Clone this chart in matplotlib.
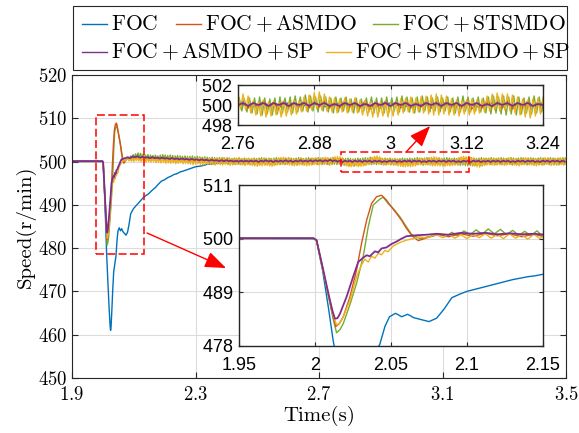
import numpy as np
import matplotlib.pyplot as plt
from matplotlib.lines import Line2D
from matplotlib.patches import Rectangle

plt.rcParams["mathtext.fontset"] = "cm"
plt.rcParams["axes.formatter.use_mathtext"] = True

# ── Speed response data (r/min) ───────────────────────────────────────────────

# FOC: whole record on its own time points
t_foc = [1.90, 1.95, 1.999, 2.001, 2.005, 2.009, 2.012, 2.016, 2.020, 2.0235,
         2.025, 2.0265, 2.029, 2.032, 2.035, 2.040, 2.0426, 2.046, 2.049, 2.053,
         2.057, 2.061, 2.065, 2.070, 2.075, 2.080, 2.085, 2.090, 2.095, 2.100,
         2.105, 2.110, 2.115, 2.120, 2.125, 2.130, 2.135, 2.140, 2.145, 2.150,
         2.16, 2.17, 2.18, 2.19, 2.20, 2.21, 2.22, 2.23, 2.24, 2.25,
         2.26, 2.28, 2.30, 2.32, 2.34, 2.36, 2.38, 2.40, 2.42, 2.44, 2.46]
v_foc = [500.0, 500.0, 500.0, 499.6, 493.5, 485.5, 479.0, 472.5, 466.5, 462.0,
         461.0, 461.8, 465.5, 470.5, 474.5, 477.0, 478.3, 482.0, 484.0, 484.7,
         484.0, 484.5, 483.8, 483.4, 483.0, 483.7, 485.6, 487.9, 488.6, 489.2,
         489.6, 490.0, 490.4, 490.8, 491.2, 491.6, 491.9, 492.2, 492.4, 492.7,
         493.4, 494.0, 494.8, 495.5, 495.8, 496.3, 496.6, 497.0, 497.2, 497.6,
         497.8, 498.3, 498.8, 499.0, 499.4, 499.5, 499.7, 499.8, 499.9, 500.0, 500.0]
# FOC ripple from 2.48 s, 0.02 s apart
ss_foc = [500.1, 499.9, 500.2, 499.8, 500.1, 500.0, 500.2, 499.9, 500.1, 499.8,
          500.2, 500.0, 500.1, 499.9, 500.2, 499.8, 500.1, 500.0, 500.2, 499.9,
          500.1, 499.8, 500.2, 500.0, 500.1, 499.9, 500.2, 499.8, 500.1, 500.0,
          500.2, 499.9, 500.1, 499.8, 500.2, 500.0, 500.1, 499.9, 500.2, 499.8,
          500.1, 500.0, 500.2, 499.9, 500.1, 499.8, 500.2, 500.0, 500.1, 499.9,
          500.2, 500.0]

# load step transients
t_asmdo = [1.90, 1.95, 1.999, 2.001, 2.005, 2.009, 2.0115, 2.0137, 2.016, 2.0186,
           2.023, 2.0273, 2.0306, 2.034, 2.0372, 2.0405, 2.0438, 2.047, 2.0503, 2.0536,
           2.0569, 2.0602, 2.0635, 2.0679, 2.071, 2.0755]
v_asmdo = [500.1, 500.1, 500.1, 499.7, 494.0, 488.2, 484.5, 482.0, 482.6, 484.0,
           488.1, 493.5, 499.0, 503.8, 507.2, 508.6, 508.9, 507.9, 506.5, 505.2,
           503.8, 502.1, 500.7, 499.6, 499.9, 500.4]

t_stsmdo = [1.90, 1.95, 1.999, 2.001, 2.005, 2.009, 2.012, 2.0142, 2.0165, 2.0186,
            2.023, 2.0273, 2.0317, 2.035, 2.0383, 2.0427, 2.0449, 2.0481, 2.0514, 2.0558,
            2.0602, 2.0635, 2.069, 2.0735, 2.0777]
v_stsmdo = [500.0, 500.1, 500.0, 499.7, 494.0, 488.0, 483.5, 480.7, 481.4, 482.6,
            486.5, 490.8, 496.3, 502.4, 506.9, 508.1, 508.5, 507.2, 506.2, 504.5,
            502.4, 500.9, 500.0, 500.3, 500.5]

t_asmdo_sp = [1.90, 1.95, 1.999, 2.001, 2.005, 2.009, 2.0115, 2.0131, 2.0148, 2.0164,
              2.0208, 2.0251, 2.0284, 2.0317, 2.034, 2.0361, 2.0394, 2.0416, 2.0438, 2.047,
              2.0503, 2.0536, 2.0569, 2.0602, 2.0668, 2.073]
v_asmdo_sp = [500.1, 500.1, 500.1, 499.7, 494.2, 488.5, 485.2, 483.6, 483.7, 484.6,
              488.1, 492.2, 495.2, 496.1, 496.6, 496.4, 497.4, 497.2, 498.0, 498.2,
              498.9, 499.4, 500.0, 500.5, 500.7, 500.8]

t_stsmdo_sp = [1.90, 1.95, 1.999, 2.001, 2.005, 2.009, 2.012, 2.0142, 2.0165, 2.0186,
               2.023, 2.0273, 2.0306, 2.0328, 2.035, 2.0372, 2.0394, 2.0416, 2.0438, 2.046,
               2.048, 2.0514, 2.0558, 2.0602, 2.0646, 2.069, 2.0735, 2.077]
v_stsmdo_sp = [500.1, 500.0, 500.1, 499.7, 494.0, 488.2, 484.3, 482.3, 482.8, 484.0,
               487.4, 492.2, 494.6, 495.8, 495.2, 496.4, 496.0, 497.0, 496.7, 497.6,
               497.3, 498.5, 499.2, 499.7, 500.0, 500.4, 500.1, 500.6]

# steady-state ripple, ASMDO and ASMDO+SP every 8 ms from 2.08 s
ss_asmdo = [
    500.9, 500.4, 501.0, 500.5, 501.1, 500.6, 501.0, 500.4, 500.9, 500.3, 500.9, 500.4, 500.8,
    500.3, 500.8, 500.2, 500.7, 500.2, 500.8, 500.1, 500.7, 500.2, 500.6, 500.0, 500.7,
    499.9, 500.6, 499.9, 500.5, 499.8, 500.6, 499.9, 500.5, 499.7, 500.4, 499.8, 500.5, 499.7,
    500.4, 499.8, 500.5, 499.7, 500.4, 499.8, 500.3, 499.7, 500.4, 499.8, 500.3, 499.7,
    500.4, 499.7, 500.3, 499.8, 500.4, 499.7, 500.3, 499.6, 500.4, 499.7, 500.3, 499.8, 500.4,
    499.7, 500.3, 499.7, 500.4, 499.8, 500.3, 499.7, 500.4, 499.6, 500.3, 499.7, 500.4,
    499.7, 500.3, 499.8, 500.4, 499.7, 500.3, 499.6, 500.4, 499.7, 500.3, 499.8, 500.4, 499.7,
    500.3, 499.8, 500.4, 499.7, 500.3, 499.6, 500.4, 499.7, 500.3, 499.8, 500.4, 499.7,
    500.3, 499.8, 500.4, 499.7, 500.3, 499.7, 500.4, 499.8, 500.3, 499.7, 500.4, 499.6, 500.3,
    499.7, 500.4, 499.8, 500.3, 499.7, 500.4, 499.7, 500.3, 499.8, 500.4, 499.7, 500.3,
    499.7, 500.4, 499.8, 500.3, 499.7, 500.4, 499.6, 500.3, 499.7, 500.4, 499.8, 500.3, 499.7,
    500.4, 499.6, 500.3, 499.7, 500.4, 499.8, 500.3, 499.7, 500.4, 499.7, 500.3, 499.8,
    500.4, 499.7, 500.3, 499.8, 500.4, 499.7, 500.3, 499.6, 500.4, 499.7, 500.3, 499.8, 500.4,
    499.7, 500.3, 499.7, 500.4, 499.8, 500.3, 499.7, 500.4, 499.6, 500.3, 499.7, 500.4,
    499.7, 500.3, 499.8,
]
ss_asmdo_sp = [
    501.0, 500.8, 501.2, 501.0, 501.2, 500.9, 501.1, 500.9, 501.0, 500.8, 501.0, 500.8, 500.9,
    500.7, 500.9, 500.7, 500.8, 500.6, 500.8, 500.6, 500.7, 500.5, 500.7, 500.5, 500.6,
    500.4, 500.6, 500.4, 500.5, 500.3, 500.5, 500.3, 500.4, 500.2, 500.4, 500.2, 500.3, 500.1,
    500.3, 500.1, 500.3, 500.1, 500.2, 500.0, 500.2, 500.0, 500.2, 500.0, 500.2, 500.0,
    500.2, 500.0, 500.2, 499.9, 500.2, 500.0, 500.3, 500.0, 500.2, 499.9, 500.2, 500.0, 500.2,
    500.0, 500.3, 500.0, 500.2, 499.9, 500.2, 500.0, 500.3, 500.0, 500.2, 500.0, 500.3,
    500.0, 500.3, 500.1, 500.3, 500.0, 500.3, 500.1, 500.4, 500.1, 500.3, 500.0, 500.2, 499.9,
    500.2, 500.0, 500.2, 499.9, 500.2, 500.0, 500.2, 499.9, 500.2, 500.0, 500.2, 499.9,
    500.2, 500.0, 500.2, 499.9, 500.1, 499.9, 500.2, 500.0, 500.2, 499.9, 500.1, 499.9, 500.2,
    500.0, 500.2, 499.9, 500.2, 500.0, 500.2, 499.9, 500.1, 499.9, 500.2, 500.0, 500.2,
    499.9, 500.2, 500.0, 500.2, 499.9, 500.2, 500.0, 500.2, 499.9, 500.1, 499.9, 500.2, 500.0,
    500.2, 499.9, 500.2, 500.0, 500.2, 499.9, 500.1, 500.0, 500.2, 499.9, 500.2, 500.0,
    500.2, 499.9, 500.2, 500.0, 500.2, 499.9, 500.1, 499.9, 500.2, 500.0, 500.2, 499.9, 500.2,
    500.0, 500.2, 499.9, 500.1, 499.9, 500.2, 500.0, 500.2, 499.9, 500.2, 500.0, 500.2,
    499.9, 500.2, 500.0,
]

# steady-state ripple, STSMDO (from 2.082 s) and STSMDO+SP (from 2.08 s), every 4 ms
ss_stsmdo = [
    501.0, 500.4, 501.3, 500.6, 501.6, 500.8, 501.8, 500.9, 502.0, 501.0, 501.9, 500.8, 501.7,
    500.7, 501.5, 500.6, 501.6, 500.5, 501.5, 500.6, 501.4, 500.5, 501.5, 500.4, 501.3,
    500.5, 501.5, 500.4, 501.6, 500.5, 501.5, 500.3, 501.4, 500.4, 501.5, 500.3, 501.4, 500.2,
    501.3, 500.3, 501.4, 500.2, 501.3, 500.1, 501.2, 500.2, 501.3, 500.1, 501.2, 500.0,
    501.2, 500.0, 501.3, 499.9, 501.1, 500.0, 501.2, 499.8, 501.1, 499.9, 501.0, 499.8, 501.1,
    499.7, 501.0, 499.8, 500.9, 499.7, 501.0, 499.6, 500.9, 499.7, 500.8, 499.6, 500.9,
    499.5, 500.9, 499.6, 500.8, 499.5, 500.9, 499.4, 500.8, 499.5, 500.7, 499.4, 500.8, 499.3,
    500.7, 499.4, 500.8, 499.3, 500.7, 499.4, 500.8, 499.3, 500.7, 499.4, 500.6, 499.3,
    500.7, 499.3, 500.8, 499.4, 500.7, 499.3, 500.8, 499.4, 500.9, 499.5, 500.8, 499.3, 500.7,
    499.4, 500.8, 499.3, 500.7, 499.2, 500.8, 499.3, 500.9, 499.4, 500.8, 499.3, 500.7,
    499.4, 500.8, 499.3, 500.7, 499.4, 500.9, 499.5, 500.8, 499.3, 500.7, 499.4, 500.8, 499.3,
    500.9, 499.4, 500.8, 499.3, 500.7, 499.4, 500.8, 499.5, 500.9, 499.4, 500.8, 499.3,
    500.7, 499.4, 500.8, 499.3, 500.9, 499.4, 500.8, 499.3, 500.7, 499.4, 500.8, 499.3, 500.7,
    499.2, 500.8, 499.3, 500.9, 499.4, 500.8, 499.3, 500.7, 499.4, 500.6, 499.3, 500.7,
    499.2, 500.7, 499.1, 500.8, 499.0, 500.7, 499.1, 500.6, 499.0, 500.7, 499.1, 500.8, 499.2,
    500.7, 499.3, 500.8, 499.2, 500.9, 499.3, 500.8, 499.4, 501.0, 499.3, 500.9, 499.4,
    500.8, 499.3, 500.9, 499.4, 500.8, 499.3, 500.7, 499.2, 500.8, 499.3, 500.7, 499.4, 500.8,
    499.3, 500.6, 499.2, 500.7, 499.3, 500.6, 499.4, 500.7, 499.3, 500.8, 499.2, 500.7,
    499.3, 500.7, 499.2, 500.8, 499.3, 500.7, 499.4, 500.8, 499.3, 500.9, 499.4, 500.8, 499.3,
    500.7, 499.2, 500.8, 499.3, 500.9, 499.4, 500.8, 499.3, 500.7, 499.4, 500.8, 499.3,
    500.7, 499.4, 500.8, 499.3, 500.7, 499.2, 500.8, 499.3, 500.9, 499.4, 500.8, 499.3, 500.7,
    499.4, 500.8, 499.3, 500.7, 499.2, 500.8, 499.1, 500.9, 499.2, 500.8, 499.1, 500.9,
    499.0, 500.8, 499.1, 500.9, 499.0, 500.8, 499.1, 500.7, 499.2, 500.8, 499.1, 500.9, 499.2,
    500.8, 499.3, 500.7, 499.4, 500.8, 499.3, 500.9, 499.4, 500.8, 499.3, 500.7, 499.4,
    500.8, 499.3, 500.9, 499.4, 500.8, 499.3, 500.7, 499.4, 500.8, 499.3, 500.9, 499.2, 500.8,
    499.3, 500.7, 499.4, 500.8, 499.3, 500.9, 499.4, 500.8, 499.3, 500.7, 499.2, 500.8,
    499.3, 500.9, 499.4, 500.8, 499.3, 500.7, 499.4, 500.8, 499.3, 500.9, 499.2, 500.8, 499.3,
    500.7, 499.4, 500.8, 499.3, 500.9, 499.4, 500.8, 499.3, 500.7, 499.2, 500.8, 499.3,
    500.8, 499.4, 500.9, 499.3, 500.8, 499.4,
]
ss_stsmdo_sp = [
    500.8, 500.2, 500.9, 500.1, 500.8, 500.0, 500.9, 500.2, 501.0, 500.1, 500.9, 500.0, 501.0,
    500.1, 500.8, 499.9, 500.9, 500.0, 501.0, 499.9, 500.8, 500.0, 500.9, 499.8, 500.8,
    499.8, 500.9, 499.7, 501.0, 499.8, 500.8, 499.6, 500.9, 499.7, 501.0, 499.6, 500.8, 499.7,
    500.9, 499.5, 500.8, 499.6, 500.9, 499.7, 500.7, 499.5, 500.8, 499.6, 500.9, 499.5,
    500.8, 499.4, 500.9, 499.3, 500.7, 499.4, 500.8, 499.5, 500.9, 499.3, 500.7, 499.2, 500.8,
    499.4, 500.6, 499.3, 500.8, 499.4, 500.9, 499.3, 500.7, 499.2, 500.8, 499.4, 500.7,
    499.3, 500.8, 499.2, 500.9, 499.4, 500.7, 499.3, 500.8, 499.1, 500.6, 499.2, 500.7, 499.3,
    500.8, 499.4, 500.9, 499.3, 500.7, 499.2, 500.6, 499.1, 500.7, 499.3, 500.8, 499.2,
    500.6, 499.1, 500.7, 499.0, 500.5, 498.9, 500.6, 499.1, 500.7, 499.0, 500.6, 499.2, 500.8,
    499.1, 500.6, 499.0, 500.7, 498.9, 500.5, 499.1, 500.6, 499.2, 500.8, 499.3, 500.9,
    499.4, 501.0, 499.3, 500.9, 499.4, 500.8, 499.2, 500.7, 499.1, 500.6, 499.0, 500.7, 499.1,
    500.6, 499.2, 500.8, 499.3, 500.7, 499.1, 500.6, 499.0, 500.5, 499.1, 500.7, 499.2,
    500.8, 499.3, 500.9, 499.4, 500.8, 499.2, 500.7, 499.3, 500.9, 499.4, 501.0, 499.5, 500.9,
    499.3, 500.8, 499.4, 501.0, 499.6, 501.1, 499.7, 501.2, 499.6, 501.1, 499.5, 500.9,
    499.2, 500.4, 499.0, 500.3, 498.9, 500.5, 498.8, 500.3, 498.9, 500.4, 499.0, 500.2, 498.8,
    500.4, 498.9, 500.3, 499.0, 500.5, 499.1, 500.4, 499.3, 500.8, 499.4, 501.0, 499.5,
    501.2, 499.6, 501.3, 499.5, 501.1, 499.4, 500.8, 499.3, 500.7, 499.2, 500.6, 499.3, 500.7,
    499.2, 500.6, 499.3, 500.7, 499.2, 500.5, 499.0, 500.4, 498.9, 500.3, 498.8, 500.4,
    498.8, 500.3, 498.9, 500.4, 498.8, 500.2, 498.9, 500.4, 499.0, 500.6, 499.2, 500.7, 499.3,
    500.8, 499.2, 500.7, 499.3, 500.8, 499.2, 500.9, 499.1, 501.0, 499.0, 501.1, 499.0,
    501.0, 499.1, 500.9, 499.0, 500.6, 499.0, 500.5, 498.9, 500.4, 499.1, 500.5, 499.0, 500.6,
    499.1, 500.5, 499.2, 500.6, 499.3, 500.9, 499.4, 501.1, 499.5, 501.2, 499.4, 501.1,
    499.5, 501.1, 499.4, 501.0, 499.2, 500.8, 499.0, 500.6, 498.8, 500.5, 498.7, 500.6, 498.9,
    500.7, 499.1, 500.8, 499.2, 500.7, 499.3, 500.8, 499.2, 500.6, 499.1, 500.7, 499.2,
    500.8, 499.3, 500.7, 499.2, 500.6, 499.1, 500.7, 499.2, 500.8, 499.4, 500.9, 499.3, 500.7,
    499.2, 500.6, 499.1, 500.7, 499.0, 500.6, 499.2, 500.8, 499.3, 500.9, 499.4, 500.8,
    499.3, 500.7, 499.2, 500.6, 499.1, 500.7, 499.0, 500.6, 499.2, 500.8, 499.3, 500.7, 499.2,
    500.9, 499.4, 500.8, 499.3, 500.7, 499.1, 500.6, 499.2, 500.8, 499.3, 500.7, 499.2,
    500.8, 499.3, 500.7, 499.2, 500.8, 499.4,
]

labels = ["FOC", "FOC+ASMDO", "FOC+STSMDO", "FOC+ASMDO+SP", "FOC+STSMDO+SP"]
x_ticks = [1.9, 2.3, 2.7, 3.1, 3.5]
y_ticks = [450, 460, 470, 480, 490, 500, 510, 520]
zoom1_xticks = [2.76, 2.88, 3.0, 3.12, 3.24]
zoom1_xlabels = ["2.76", "2.88", "3", "3.12", "3.24"]
zoom1_yticks = [498, 500, 502]
zoom2_xticks = [1.95, 2.0, 2.05, 2.1, 2.15]
zoom2_xlabels = ["1.95", "2", "2.05", "2.1", "2.15"]
zoom2_yticks = [478, 489, 500, 511]


def join(t_tr, v_tr, t0, dt, v_ss):
    t = np.concatenate([t_tr, t0 + dt * np.arange(len(v_ss))])
    return t, np.concatenate([v_tr, v_ss])


BLUE, ORANGE, YELLOW, PURPLE, GREEN = "#0072BD", "#D95319", "#EDB120", "#7E2F8E", "#77AC30"

foc = join(t_foc, v_foc, 2.48, 0.02, ss_foc)
asmdo = join(t_asmdo, v_asmdo, 2.08, 0.008, ss_asmdo)
stsmdo = join(t_stsmdo, v_stsmdo, 2.082, 0.004, ss_stsmdo)
asmdo_sp = join(t_asmdo_sp, v_asmdo_sp, 2.08, 0.008, ss_asmdo_sp)
stsmdo_sp = join(t_stsmdo_sp, v_stsmdo_sp, 2.08, 0.004, ss_stsmdo_sp)

# drawing order: purple ends up on top
curves = [(foc, BLUE, 1.0), (stsmdo, GREEN, 1.0), (asmdo, ORANGE, 1.0),
          (stsmdo_sp, YELLOW, 1.0), (asmdo_sp, PURPLE, 1.3)]
legend_colors = [BLUE, ORANGE, GREEN, PURPLE, YELLOW]

# ── Figure ────────────────────────────────────────────────────────────────────

W, H = 579, 433
fig = plt.figure(figsize=(W / 100, H / 100), dpi=100)


def box(l, t, r, b):
    return [l / W, 1 - b / H, (r - l) / W, (b - t) / H]


AXC = "#262626"
GRID = "#dcdcdc"

ax = fig.add_axes(box(72, 75, 566, 378))
for (t, v), c, lw in curves:
    ax.plot(t, v, color=c, lw=lw)
ax.set_xlim(1.9, 3.5)
ax.set_ylim(450, 520)
ax.set_xticks(x_ticks)
ax.set_yticks(y_ticks)
ax.grid(True, color=GRID, lw=0.8)
ax.set_axisbelow(True)
ax.tick_params(direction="in", length=4, width=0.8, top=True, right=True,
               labelsize=13.5, labelfontfamily="cmr10", color=AXC)
ax.tick_params(axis="x", pad=6)
ax.tick_params(axis="y", pad=3)
for s in ax.spines.values():
    s.set_color(AXC); s.set_linewidth(0.8)
ax.set_xlabel("Time(s)", fontsize=15, fontfamily="cmr10", labelpad=1)
ax.set_ylabel("Speed(r/min)", fontsize=15, fontfamily="cmr10", labelpad=2)

# zoom windows on the main plot
dash = (0, (5.2, 2.2))
ax.add_patch(Rectangle((1.977, 478.6), 0.157, 32.2, fill=False, ec="red",
                       lw=1.1, ls=dash, zorder=6))
ax.add_patch(Rectangle((2.771, 497.7), 0.416, 4.5, fill=False, ec="red",
                       lw=1.1, ls=dash, zorder=6))
arrow = dict(arrowstyle="-|>,head_length=1.3,head_width=0.5", color="red",
             lw=1.0, shrinkA=0, shrinkB=0)
ax.annotate("", xy=(2.399, 475.4), xytext=(2.143, 483.5), arrowprops=arrow,
            zorder=7)
ax.annotate("", xy=(3.06, 508.2), xytext=(2.982, 502.2), arrowprops=arrow,
            zorder=7)


def inset(rect, xlim, ylim, xticks, xlabels, yticks):
    a = fig.add_axes(box(*rect))
    for (t, v), c, lw in curves:
        a.plot(t, v, color=c, lw=lw)
    a.set_xlim(*xlim)
    a.set_ylim(*ylim)
    a.set_xticks(xticks)
    a.set_xticklabels(xlabels)
    a.set_yticks(yticks)
    a.grid(True, color=GRID, lw=0.8)
    a.set_axisbelow(True)
    a.tick_params(direction="in", length=3, width=0.8, top=True, right=True,
                  labelsize=13, labelfontfamily="Liberation Sans", color=AXC)
    a.tick_params(axis="x", pad=8)
    a.tick_params(axis="y", pad=4)
    for s in a.spines.values():
        s.set_color(AXC); s.set_linewidth(1.0)
    return a


inset((238, 85, 543, 125), (2.76, 3.24), (498, 502),
      zoom1_xticks, zoom1_xlabels, zoom1_yticks)
inset((239, 185, 543, 346), (1.95, 2.15), (478, 511),
      zoom2_xticks, zoom2_xlabels, zoom2_yticks)

# legend: framed box above the axes, two rows
fig.add_artist(Rectangle((73 / W, 1 - 70 / H), (566.7 - 73) / W, 64 / H,
                         transform=fig.transFigure, fill=False, ec=AXC, lw=0.8))
entries = [(81.7, 24), (176, 24), (372.7, 24), (81.7, 52), (326, 52)]
for (x0, yc), lab, c in zip(entries, labels, legend_colors):
    y = 1 - yc / H
    fig.add_artist(Line2D([x0 / W, (x0 + 25) / W], [y, y], color=c, lw=1.0,
                          transform=fig.transFigure))
    tex = r"$" + "+".join(r"\mathrm{%s}" % p for p in lab.split("+")) + r"$"
    fig.text((x0 + 29) / W, y, tex, fontsize=15.5, va="center", ha="left")

fig.savefig("out.png", dpi=100)
